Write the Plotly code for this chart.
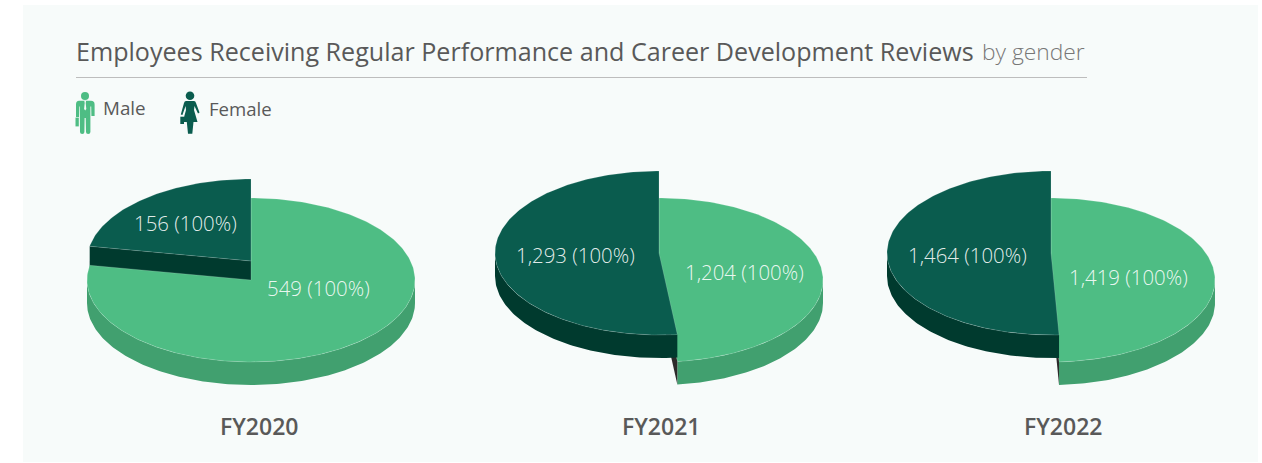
import math
import plotly.graph_objects as go

# ---- data ----
years = ["FY2020", "FY2021", "FY2022"]
male = [549, 1204, 1419]
female = [156, 1293, 1464]
male_pct = [100, 100, 100]
female_pct = [100, 100, 100]
series_names = ["Male", "Female"]
title_main = "Employees Receiving Regular Performance and Career Development Reviews"
title_sub = "by gender"

# ---- geometry / style ----
W, H = 1262, 463
RX, RY, DEPTH = 164, 82, 23
CENTERS = [251, 659, 1051]
CY = 280
LIFT = [19, 27, 27]
YEAR_X = [259, 661, 1063]
MALE_LABEL = [(318, 288), (744, 272), (1128, 277)]
FEMALE_LABEL = [(185, 223), (575, 255), (967, 255)]
C_BG = "#F7FBFA"
C_M, C_MS = "#4EBD84", "#41A06F"
C_F, C_FS = "#0A5C4E", "#003A2E"
C_INNER = "#2C2A2A"
C_TXT = "#595959"
C_LBL = "rgba(255,255,255,0.9)"
C_EDGE = "rgba(255,255,255,0.28)"
FONT = "Open Sans"


def rim(cx, cy, t):
    r = math.radians(t)
    return cx + RX * math.sin(r), cy - RY * math.cos(r)


def arc(cx, cy, a, b):
    n = max(2, int(abs(b - a)))
    return [rim(cx, cy, a + (b - a) * i / n) for i in range(n + 1)]


fig = go.Figure()


def poly(pts, color, name, text=None, edge=None):
    xs = [p[0] for p in pts] + [pts[0][0]]
    ys = [p[1] for p in pts] + [pts[0][1]]
    line = dict(width=0.6, color=edge) if edge else dict(width=0, color=color)
    fig.add_trace(go.Scatter(x=xs, y=ys, mode="lines", fill="toself", fillcolor=color,
                             line=line, name=name, text=text,
                             hoverinfo="text" if text else "skip", hoveron="fills",
                             showlegend=False))


def side(cx, cy, a, b, color, name):
    """outer wall between clockwise angles a and b (front half only)"""
    lo, hi = max(a, 90), min(b, 270)
    if hi > lo:
        top = arc(cx, cy, lo, hi)
        bot = arc(cx, cy + DEPTH, hi, lo)
        poly(top + bot, color, name)


def radial(cx, cy, t, color, name):
    x, y = rim(cx, cy, t)
    poly([(cx, cy), (x, y), (x, y + DEPTH), (cx, cy + DEPTH)], color, name)


for i, yr in enumerate(years):
    total = male[i] + female[i]
    split = 360 * male[i] / total
    cx, cm = CENTERS[i], CY
    cf = CY - LIFT[i]
    m_text = f"{yr} Male: {male[i]:,} ({male_pct[i]}%)"
    f_text = f"{yr} Female: {female[i]:,} ({female_pct[i]}%)"

    dark_in_front = split < 180
    if not dark_in_front:
        radial(cx, cf, split, C_FS, "Female")
        side(cx, cf, split, 360, C_FS, "Female")
    side(cx, cm, 0, split, C_MS, "Male")
    poly([(cx, cm)] + arc(cx, cm, 0, split), C_M, "Male", m_text, C_EDGE)
    if dark_in_front:
        radial(cx, cm, split, C_INNER, "Male")
        side(cx, cf, split, 360, C_FS, "Female")
    poly([(cx, cf)] + arc(cx, cf, split, 360), C_F, "Female", f_text, C_EDGE)

annotations = []


def label(x, y, text, size, color, anchor="center", weight=None):
    annotations.append(dict(x=x, y=y, xref="x", yref="y", text=text, showarrow=False,
                            xanchor=anchor, yanchor="middle",
                            font=dict(family=FONT, size=size, color=color,
                                      **({"weight": weight} if weight else {}))))


for i, yr in enumerate(years):
    label(*MALE_LABEL[i], f"{male[i]:,} ({male_pct[i]}%)", 20.4, C_LBL, weight=300)
    label(*FEMALE_LABEL[i], f"{female[i]:,} ({female_pct[i]}%)", 20.4, C_LBL, weight=300)
    label(YEAR_X[i], 426, yr, 23, C_TXT, weight=600)

label(74, 51, title_main, 25.1, C_TXT, "left", 400)
label(980, 51, title_sub, 22.8, "#777777", "left", 300)
label(101, 108, series_names[0], 18.8, C_TXT, "left", 400)
label(207, 108, series_names[1], 18.6, C_TXT, "left", 400)

male_body = ("M79 100.8 L91 100.8 Q94.6 100.8 94.6 104.5 L94.6 116 L91.4 116 L91.2 106.5 L90.4 106.5 L90.4 132 "
             "Q90.4 134 88.2 134 Q86 134 86 132 L85.7 118 L84.6 118 L84.4 132 Q84.4 134 82.2 134 "
             "Q80 134 80 132 L79.8 106.5 L79.2 106.5 L79 117 L76 117 L76 104.5 Q76 100.8 79 100.8 Z")
male_tie = "M84.3 100.8 L86.1 100.8 L85.7 103 L86.3 109 L85.2 110.5 L84.1 109 L84.7 103 Z"
female_body = ("M186 101 L194 101 Q195.5 101 196 103 L199.5 112.5 L198 113.5 L194.5 106 L194 110 L197.5 122 "
               "L193.5 122 L192.3 133.7 L188 133.7 L186.8 122 L182.7 122 L186 110 L185.6 106 L182.4 115 L180.8 114.5 "
               "L184 103 Q184.5 101 186 101 Z")
shapes = [
    dict(type="rect", xref="x", yref="y", x0=23, x1=1258, y0=5, y1=462, fillcolor=C_BG,
         line_width=0, layer="below"),
    dict(type="line", xref="x", yref="y", x0=76, x1=1087, y0=77.5, y1=77.5,
         line=dict(color="#BDBDBD", width=1), layer="below"),
    dict(type="circle", xref="x", yref="y", x0=81, x1=89, y0=92, y1=100, fillcolor=C_M, line_width=0),
    dict(type="path", xref="x", yref="y", path=male_body, fillcolor=C_M, line_width=0),
    dict(type="path", xref="x", yref="y", path=male_tie, fillcolor=C_BG, line_width=0),
    dict(type="rect", xref="x", yref="y", x0=75.5, x1=78.8, y0=117.6, y1=126.4, fillcolor=C_M, line_width=0),
    dict(type="circle", xref="x", yref="y", x0=185.7, x1=194.3, y0=91.5, y1=100, fillcolor=C_F, line_width=0),
    dict(type="path", xref="x", yref="y", path=female_body, fillcolor=C_F, line_width=0),
    dict(type="rect", xref="x", yref="y", x0=180.3, x1=184, y0=116.7, y1=124, fillcolor=C_F, line_width=0),
]

fig.update_layout(
    width=W, height=H, margin=dict(l=0, r=0, t=0, b=0, pad=0),
    paper_bgcolor="white", plot_bgcolor="white", showlegend=False,
    xaxis=dict(range=[0, W], visible=False, fixedrange=True),
    yaxis=dict(range=[H, 0], visible=False, fixedrange=True),
    shapes=shapes, annotations=annotations,
)

fig.write_html("out.html", config={"displayModeBar": False},
               post_script="document.body.style.margin='0';document.body.style.overflow='hidden';")
